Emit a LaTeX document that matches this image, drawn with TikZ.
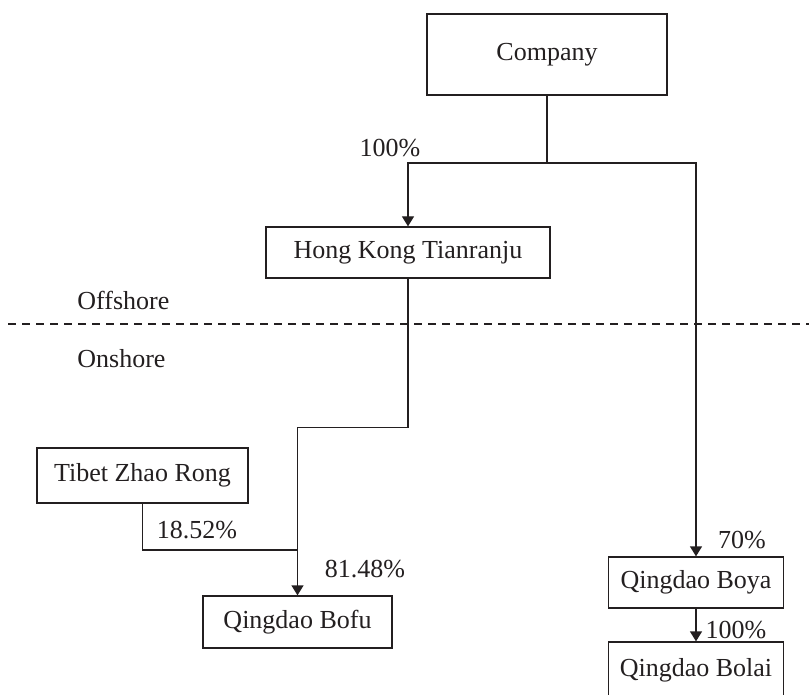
\documentclass[tikz,border=0pt]{standalone}
\usepackage{fontspec}
\setmainfont{Liberation Serif}
\definecolor{ink}{HTML}{231F20}
\usetikzlibrary{arrows.meta,positioning,calc}

\begin{document}
\begin{tikzpicture}[x=0.5pt,y=-0.5pt,
    ent/.style={draw=ink,line width=0.65pt,rectangle,inner sep=0pt,
      text=ink,font=\fontsize{13}{15.6}\selectfont},
    lbl/.style={anchor=base,inner sep=0pt,text=ink,
      font=\fontsize{13}{15.6}\selectfont},
    ln/.style={draw=ink,line width=0.65pt},
    ar/.style={ln,-{Triangle[width=6pt,length=5pt]}},
  ]
    \useasboundingbox (0,0) rectangle (809,695);

    \node[ent,minimum width=120pt,minimum height=40.5pt] (co) at (547,54.5) {Company};
    \node[ent,minimum width=142pt,minimum height=25.5pt] (hk) at (408,252.5) {Hong Kong Tianranju};
    \node[ent,minimum width=105.5pt,minimum height=27.5pt] (tz) at (142.5,475.5) {Tibet Zhao Rong};
    \node[ent,minimum width=94.5pt,minimum height=26pt] (bf) at (297.5,622) {Qingdao Bofu};
    \node[ent,minimum width=87.5pt,minimum height=25.5pt] (by) at (696,582.5) {Qingdao Boya};
    \node[ent,minimum width=87.5pt,minimum height=28pt] (bl) at (696,670) {Qingdao Bolai};

    % offshore / onshore divider
    \draw[ln,dash pattern=on 4pt off 3pt] (8,324) -- (809,324);
    \node[lbl,anchor=base west] (off) at (77,310) {Offshore};
    \node[lbl,anchor=base west] (on) at (77,368) {Onshore};

    \coordinate (fork) at (547,163);
    \coordinate (join) at (297.5,550);

    \draw[ln] (co.south) -- (fork);
    \draw[ar] (fork) -| (hk.north);
    \draw[ar] (fork) -| (by.north);
    \draw[ar] (hk.south) -- ++(0,149) -| (bf.north);
    \draw[ln] (tz.south) |- (join);
    \draw[ar] (by.south) -- (bl.north);

    \node[lbl] (p1) at (390,157) {100\%};
    \node[lbl] (p2) at (197,538) {18.52\%};
    \node[lbl] (p3) at (365,577) {81.48\%};
    \node[lbl] (p4) at (742,548) {70\%};
    \node[lbl] (p5) at (736,638) {100\%};
  \end{tikzpicture}
\end{document}
